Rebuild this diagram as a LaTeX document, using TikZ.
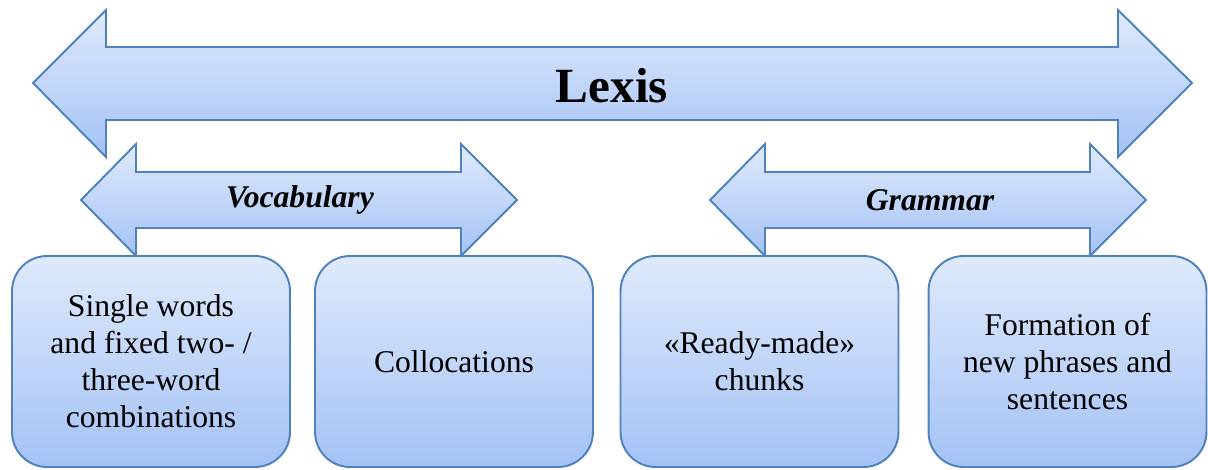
\documentclass[tikz,border=0pt]{standalone}
\usepackage{fontspec}
\setmainfont{Liberation Serif}
\definecolor{edgeblue}{RGB}{79,129,189}
\definecolor{lighttop}{RGB}{223,234,252}
\definecolor{darkbottom}{RGB}{164,194,245}
\tikzset{
  blueshade/.style={top color=lighttop, bottom color=darkbottom, draw=edgeblue, line width=1.1pt},
  itembox/.style={blueshade, rounded corners=0.7cm, minimum width=5.56cm, minimum height=4.22cm,
    align=center, inner sep=0pt, font=\fontsize{18}{21}\selectfont},
  arrowlabel/.style={font=\fontsize{18}{21}\selectfont\bfseries\itshape},
}
\begin{document}
\begin{tikzpicture}[x=0.02cm, y=-0.02cm]
  \useasboundingbox (0, 0) rectangle (1208, 470);
  % big double arrow
  \shade[blueshade] (33, 83) -- (106, 10) -- (106, 47) -- (1118, 47) -- (1118, 10)
    -- (1192, 83) -- (1118, 157) -- (1118, 120) -- (106, 120) -- (106, 157) -- cycle;
  \node[font=\fontsize{28}{32}\selectfont\bfseries] (lexis) at (612, 86) {Lexis};
  % two smaller double arrows
  \foreach \x in {81, 710} {
    \shade[blueshade] (\x, 200) -- (\x + 55, 144) -- (\x + 55, 172) -- (\x + 380, 172)
      -- (\x + 380, 144) -- (\x + 436, 200) -- (\x + 380, 256) -- (\x + 380, 228)
      -- (\x + 55, 228) -- (\x + 55, 256) -- cycle;
  }
  \node[arrowlabel] (vocab) at (300, 200) {Vocabulary};
  \node[arrowlabel] (grammar) at (930, 200) {Grammar};
  % boxes
  \node[itembox] (single) at (151, 361.5) {Single words\\and fixed two- /\\three-word\\combinations};
  \node[itembox] (colloc) at (454, 361.5) {Collocations};
  \node[itembox] (chunks) at (759.5, 361.5) {«Ready-made»\\chunks};
  \node[itembox] (formation) at (1067.5, 361.5) {Formation of\\new phrases and\\sentences};
\end{tikzpicture}
\end{document}
